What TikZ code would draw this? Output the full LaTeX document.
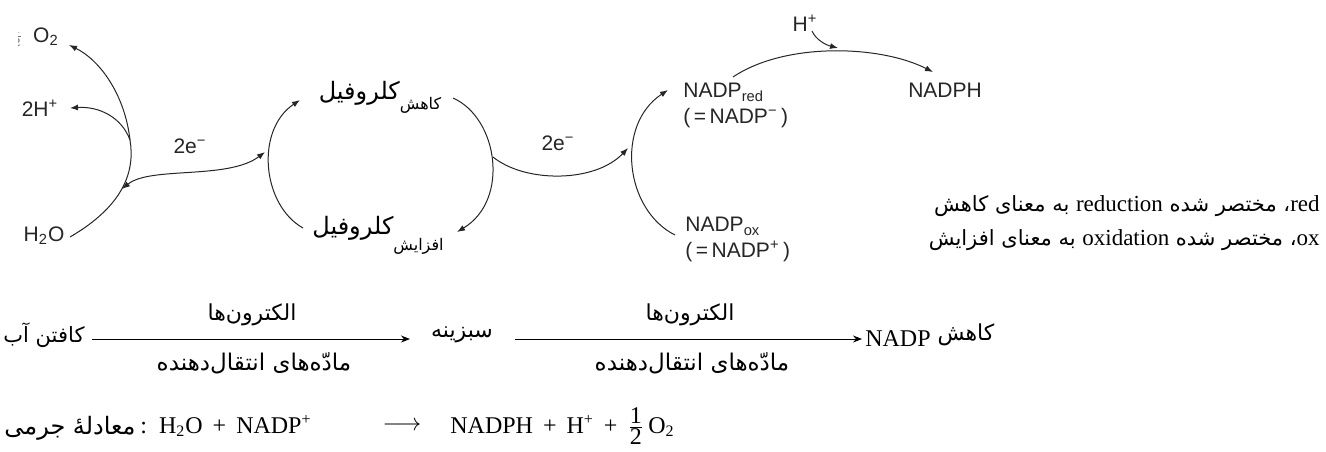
\documentclass[tikz,border=0pt]{standalone}
\usepackage{fontspec}
\setmainfont{Liberation Serif}
\setsansfont{Liberation Sans}
\newfontfamily\fa[Script=Arabic]{DejaVu Sans}
\newfontfamily\lat{Liberation Serif}
\TeXXeTstate=1
\usetikzlibrary{arrows.meta}
\begin{document}
\begin{tikzpicture}[x=0.5pt,y=-0.5pt,
  conn/.style={line width=0.5pt,draw=black!85},
  tip/.style={-{Latex[length=4pt,width=3pt]}},
  lbl/.style={font=\sffamily\fontsize{10.5}{12}\selectfont,inner sep=0pt,text=black!85},
  fabig/.style={font=\fa\fontsize{11}{13}\selectfont,inner sep=0pt},
  ser/.style={font=\fontsize{12}{14}\selectfont,inner sep=0pt},
  barrow/.style={line width=0.5pt,-{Stealth[length=4.5pt,width=3.5pt]}}]
\fill[white] (0,0) rectangle (1326,451);
\useasboundingbox (0,0) rectangle (1326,451);
% ---------- left: water splitting ----------
\node[lbl] (o2) at (46,37) {O\textsubscript{2}};
\begin{scope}
\clip (18,20) rectangle (25,52);
\node[font=\small,text=black!55,inner sep=0pt] (half) at (17,36) {$\frac{1}{2}$};
\end{scope}
\node[lbl] (hp2) at (40,108) {2H\textsuperscript{+}};
\node[lbl] (h2o) at (44,236) {H\textsubscript{2}O};
\coordinate (o2in) at (69,45);
\coordinate (hpin) at (70,108);
\coordinate (h2oout) at (70,237);
\coordinate (j1) at (130,140);
\coordinate (j2) at (122,189);
\draw[conn,tip] (h2oout) .. controls (125,205) and (135,170) .. (j1) .. controls (125,95) and (100,60) .. (o2in);
\draw[conn,tip] (j1) .. controls (122,118) and (100,106) .. (hpin);
\coordinate (chlin) at (265,152);
\draw[conn,{Latex[length=4pt,width=3pt]}-{Latex[length=4pt,width=3pt]}] (j2) .. controls (150,166) and (228,180) .. (chlin);
\node[lbl] (e1) at (190,146) {2e\textsuperscript{−}};
% ---------- chlorophyll ----------
\coordinate (cl1) at (303,228);
\coordinate (cl2) at (300,100);
\coordinate (cr1) at (453,98);
\coordinate (cr2) at (457,232);
\draw[conn,tip] (cl1) .. controls (262,205) and (255,130) .. (cl2);
\draw[conn,tip] (cr1) .. controls (498,118) and (510,200) .. (cr2);
\node[inner sep=0pt] (chlred) at (380,97) {{\fa\fontsize{12}{14}\selectfont\beginR کلروفیل\endR}\raisebox{-5pt}{\fa\fontsize{8}{10}\selectfont\beginR کاهش\endR}};
\node[inner sep=0pt] (chlox) at (378,235) {{\fa\fontsize{12}{14}\selectfont\beginR کلروفیل\endR}\raisebox{-8pt}{\fa\fontsize{8}{10}\selectfont\beginR افزایش\endR}};
% ---------- NADP ----------
\coordinate (cr3) at (493,157);
\coordinate (nin) at (628,148);
\draw[conn,tip] (cr3) .. controls (525,183) and (595,183) .. (nin);
\node[lbl] (e2) at (558,143) {2e\textsuperscript{−}};
\coordinate (n1) at (675,235);
\coordinate (n2) at (668,90);
\draw[conn,tip] (n1) .. controls (625,210) and (615,125) .. (n2);
\node[lbl,anchor=north west,align=left] (nred) at (683,83) {NADP\textsubscript{red}\\[1pt](\,=\,NADP\textsuperscript{−}\,)};
\node[lbl,anchor=north west,align=left] (nox) at (685,217) {NADP\textsubscript{ox}\\[1pt](\,=\,NADP\textsuperscript{+}\,)};
\node[lbl] (nadph) at (945,90) {NADPH};
\node[lbl] (hp) at (805,23) {H\textsuperscript{+}};
\coordinate (r1) at (733,77);
\coordinate (r2) at (933,72);
\draw[conn,tip] (r1) .. controls (785,42) and (880,45) .. (r2);
\coordinate (hpin2) at (838,48);
\coordinate (hpout) at (812,31);
\draw[conn,tip] (hpout) .. controls (816,40) and (826,45) .. (hpin2);
% ---------- legend ----------
\node[inner sep=0pt,anchor=east] (leg1) at (1320,206) {\fa\fontsize{10.5}{12}\selectfont\beginR{\lat\fontsize{11.5}{12}\selectfont\beginL red\endL}، مختصر شده {\lat\fontsize{11.5}{12}\selectfont\beginL reduction\endL} به معنای کاهش\endR};
\node[inner sep=0pt,anchor=east] (leg2) at (1320,240) {\fa\fontsize{10.5}{12}\selectfont\beginR{\lat\fontsize{11.5}{12}\selectfont\beginL ox\endL}، مختصر شده {\lat\fontsize{11.5}{12}\selectfont\beginL oxidation\endL} به معنای افزایش\endR};
% ---------- bottom scheme ----------
\node[fabig,font=\fa\fontsize{10.5}{13}\selectfont] (kafat) at (44,335) {\beginR کافتن آب\endR};
\node[fabig] (sabz) at (462,335) {\beginR سبزینه\endR};
\node[ser] (nadp) at (898,339) {NADP};
\node[fabig] (kahesh) at (966,335) {\beginR کاهش\endR};
\coordinate (a1s) at (92,339);
\coordinate (a1e) at (410,339);
\coordinate (a2s) at (515,339);
\coordinate (a2e) at (862,339);
\draw[barrow] (a1s) -- (a1e);
\draw[barrow] (a2s) -- (a2e);
\node[fabig] (el1) at (252,315) {\beginR الکترون‌ها\endR};
\node[fabig,font=\fa\fontsize{11.5}{13}\selectfont] (tr1) at (254,363) {\beginR مادّه‌های انتقال‌دهنده\endR};
\node[fabig] (el2) at (690,315) {\beginR الکترون‌ها\endR};
\node[fabig,font=\fa\fontsize{11.5}{13}\selectfont] (tr2) at (692,363) {\beginR مادّه‌های انتقال‌دهنده\endR};
% ---------- mass equation ----------
\node[fabig,anchor=east,font=\fa\fontsize{12}{14}\selectfont] (eqlbl) at (136,428) {\beginR معادلهٔ جرمی\endR};
\node[ser,anchor=west] (lhs) at (140,426) {:\, H\textsubscript{2}O\, +\, NADP\textsuperscript{+}};
\node[ser] (eqarr) at (402,426) {$\longrightarrow$};
\node[ser,anchor=west] (rhs) at (450,426) {NADPH\, +\, H\textsuperscript{+}\, +\, $\frac{\mbox{1}}{\mbox{2}}$\,O\textsubscript{2}};
\end{tikzpicture}
\end{document}
